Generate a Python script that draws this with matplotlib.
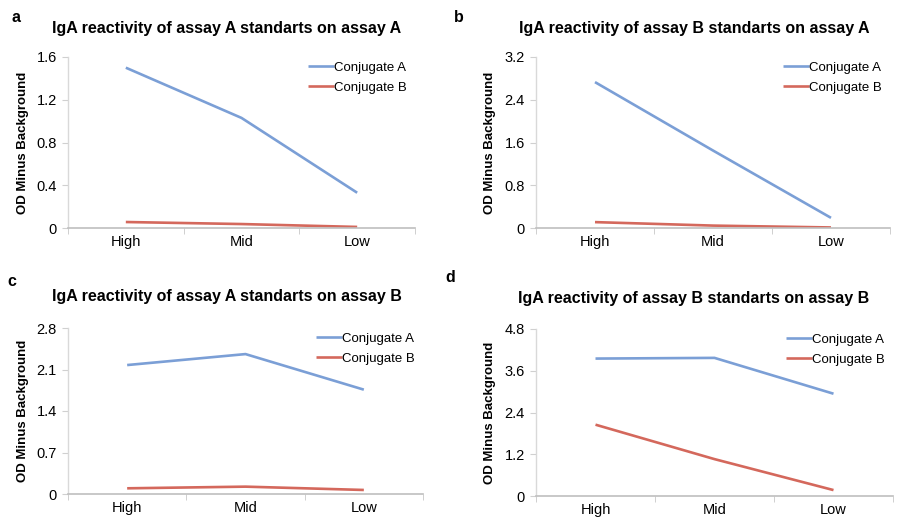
import matplotlib
matplotlib.use("Agg")
import matplotlib.pyplot as plt
from matplotlib.ticker import FixedLocator

plt.rcParams["font.family"] = ["Liberation Sans", "DejaVu Sans"]

W, H = 897, 519

categories = ["High", "Mid", "Low"]
series_names = ["Conjugate A", "Conjugate B"]

# panel a: assay A standards on assay A
a_conj_a = [1.50, 1.03, 0.33]
a_conj_b = [0.056, 0.037, 0.01]
# panel b: assay B standards on assay A
b_conj_a = [2.73, 1.45, 0.19]
b_conj_b = [0.11, 0.045, 0.01]
# panel c: assay A standards on assay B
c_conj_a = [2.175, 2.36, 1.76]
c_conj_b = [0.096, 0.124, 0.068]
# panel d: assay B standards on assay B
d_conj_a = [3.95, 3.97, 2.94]
d_conj_b = [2.05, 1.06, 0.17]

titles = [
    "IgA reactivity of assay A standarts on assay A",
    "IgA reactivity of assay B standarts on assay A",
    "IgA reactivity of assay A standarts on assay B",
    "IgA reactivity of assay B standarts on assay B",
]
panel_letters = ["a", "b", "c", "d"]
y_ticks = [
    [0, 0.4, 0.8, 1.2, 1.6],
    [0, 0.8, 1.6, 2.4, 3.2],
    [0, 0.7, 1.4, 2.1, 2.8],
    [0, 1.2, 2.4, 3.6, 4.8],
]
y_ticklabels = [
    ["0", "0.4", "0.8", "1.2", "1.6"],
    ["0", "0.8", "1.6", "2.4", "3.2"],
    ["0", "0.7", "1.4", "2.1", "2.8"],
    ["0", "1.2", "2.4", "3.6", "4.8"],
]
data = [(a_conj_a, a_conj_b), (b_conj_a, b_conj_b),
        (c_conj_a, c_conj_b), (d_conj_a, d_conj_b)]

# pixel boxes (left, top, right, bottom) of each plot area
boxes = [(68, 57, 415, 228), (536, 57, 890, 228),
         (68, 328, 423, 494), (536, 329, 893, 496)]
title_pos = [(227, 29), (694, 29), (227, 297), (694, 298)]
letter_pos = [(16, 17), (459, 17), (12, 282), (450, 278)]
ylabel_x = [23, 490, 23, 490]

colors = ["#7b9fd6", "#d4685c"]


def px_rect(l, t, r, b):
    return [l / W, 1 - b / H, (r - l) / W, (b - t) / H]


fig = plt.figure(figsize=(W / 100, H / 100), dpi=100)

for i in range(4):
    l, t, r, b = boxes[i]
    ax = fig.add_axes(px_rect(l, t, r, b))
    x = range(len(categories))
    for vals, name, col in zip(data[i], series_names, colors):
        ax.plot(x, vals, color=col, lw=1.9, label=name, solid_capstyle="butt")
    ax.set_xlim(-0.5, 2.5)
    ax.set_ylim(0, y_ticks[i][-1])
    ax.set_yticks(y_ticks[i])
    ax.set_yticklabels(y_ticklabels[i])
    ax.set_xticks(list(x))
    ax.set_xticklabels(categories)
    ax.xaxis.set_minor_locator(FixedLocator([-0.5, 0.5, 1.5, 2.5]))
    ax.tick_params(axis="x", which="major", length=0, pad=5, labelsize=10.5)
    ax.tick_params(axis="x", which="minor", length=4, color="#c8c8c8")
    ax.tick_params(axis="y", length=4, color="#d0d0d0", pad=4, labelsize=10.5)
    for s in ["top", "right"]:
        ax.spines[s].set_visible(False)
    ax.spines["left"].set_color("#d9d9d9")
    ax.spines["bottom"].set_color("#bfbfbf")
    ax.spines["left"].set_linewidth(1.0)
    ax.spines["bottom"].set_linewidth(1.2)
    ax.set_facecolor("none")
    ax.legend(loc="upper right", bbox_to_anchor=(1.0, 1.02), frameon=False,
              fontsize=9.5, handlelength=2.0, handletextpad=0.0,
              labelspacing=0.6, borderaxespad=0.2)

    tx, ty = title_pos[i]
    fig.text(tx / W, 1 - ty / H, titles[i], ha="center", va="center",
             fontsize=11.5, fontweight="bold")
    lx, ly = letter_pos[i]
    fig.text(lx / W, 1 - ly / H, panel_letters[i], ha="center", va="center",
             fontsize=11.5, fontweight="bold")
    fig.text(ylabel_x[i] / W, 1 - ((t + b) / 2) / H, "OD Minus Background",
             rotation=90, ha="center", va="center", fontsize=9.5,
             fontweight="bold")

fig.savefig("out.png", dpi=100)
